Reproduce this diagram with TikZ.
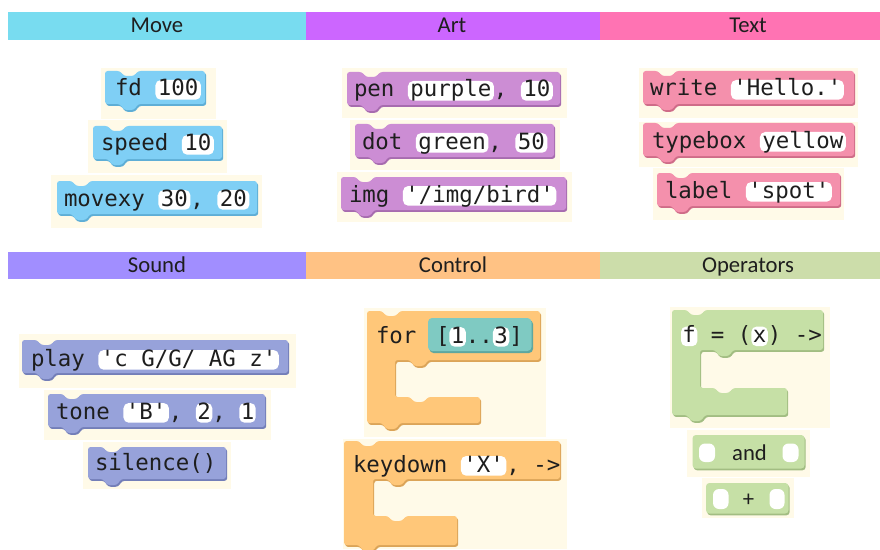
\documentclass[tikz,border=0pt]{standalone}
\usepackage{fontspec}
\setmainfont{Carlito}
\setmonofont{DejaVu Sans Mono}
\definecolor{ink}{HTML}{1E1E1E}
\definecolor{cream}{HTML}{FFFAE8}
\definecolor{hMove}{HTML}{78DCF0}
\definecolor{hArt}{HTML}{CC66FF}
\definecolor{hText}{HTML}{FF73B3}
\definecolor{hSound}{HTML}{A18EFF}
\definecolor{hCtrl}{HTML}{FFC284}
\definecolor{hOp}{HTML}{CCDDAA}
\definecolor{cMove}{HTML}{7FCFF5}
\definecolor{cMoveD}{HTML}{5EAED6}
\definecolor{cArt}{HTML}{CC8DD4}
\definecolor{cArtD}{HTML}{A76BAF}
\definecolor{cText}{HTML}{F490AC}
\definecolor{cTextD}{HTML}{CF6C88}
\definecolor{cSound}{HTML}{97A2DA}
\definecolor{cSoundD}{HTML}{737EB8}
\definecolor{cCtrl}{HTML}{FFC779}
\definecolor{cCtrlD}{HTML}{DBA458}
\definecolor{cOp}{HTML}{C6E0A6}
\definecolor{cOpD}{HTML}{A2BD82}
\definecolor{cTeal}{HTML}{7FCAC2}
\definecolor{cTealD}{HTML}{5EA79F}
\newcommand\mf{\ttfamily\fontsize{16.8pt}{20pt}\selectfont}
\newcommand\hf{\fontsize{17pt}{20pt}\selectfont}
\newcommand\msp{\hbox{\ }}
% statement block: colour, L, T, R, B
\newcommand\BlkS[5]{%
 \fill[fill=#1D,rounded corners=2pt,shift={(1.2,1.8)}] (#2,#3) -- ({#2+15},#3) -- ({#2+19},{#3+5}) -- ({#2+29},{#3+5}) -- ({#2+33},#3) -- (#4,#3) -- (#4,#5) -- ({#2+33},#5) -- ({#2+29},{#5+6}) -- ({#2+19},{#5+6}) -- ({#2+15},#5) -- (#2,#5) -- cycle;
 \fill[fill=#1,rounded corners=2pt] (#2,#3) -- ({#2+15},#3) -- ({#2+19},{#3+5}) -- ({#2+29},{#3+5}) -- ({#2+33},#3) -- (#4,#3) -- (#4,#5) -- ({#2+33},#5) -- ({#2+29},{#5+6}) -- ({#2+19},{#5+6}) -- ({#2+15},#5) -- (#2,#5) -- cycle;}
% C block: colour, L, T, R, A, IL, G, BR, B
\newcommand\BlkC[9]{%
 \fill[fill=#1D,rounded corners=2pt,shift={(1.2,1.8)}] (#2,#3) -- ({#2+15},#3) -- ({#2+19},{#3+5}) -- ({#2+29},{#3+5}) -- ({#2+33},#3) -- (#4,#3) -- (#4,#5) -- ({#6+33},#5) -- ({#6+29},{#5+6}) -- ({#6+19},{#5+6}) -- ({#6+15},#5) -- (#6,#5) -- (#6,#7) -- ({#6+15},#7) -- ({#6+19},{#7+5}) -- ({#6+29},{#7+5}) -- ({#6+33},#7) -- (#8,#7) -- (#8,#9) -- ({#2+33},#9) -- ({#2+29},{#9+6}) -- ({#2+19},{#9+6}) -- ({#2+15},#9) -- (#2,#9) -- cycle;
 \fill[fill=#1,rounded corners=2pt] (#2,#3) -- ({#2+15},#3) -- ({#2+19},{#3+5}) -- ({#2+29},{#3+5}) -- ({#2+33},#3) -- (#4,#3) -- (#4,#5) -- ({#6+33},#5) -- ({#6+29},{#5+6}) -- ({#6+19},{#5+6}) -- ({#6+15},#5) -- (#6,#5) -- (#6,#7) -- ({#6+15},#7) -- ({#6+19},{#7+5}) -- ({#6+29},{#7+5}) -- ({#6+33},#7) -- (#8,#7) -- (#8,#9) -- ({#2+33},#9) -- ({#2+29},{#9+6}) -- ({#2+19},{#9+6}) -- ({#2+15},#9) -- (#2,#9) -- cycle;}
% reporter block: colour, L, T, R, B
\newcommand\BlkR[5]{%
 \fill[fill=#1D,rounded corners=2.5pt,shift={(1.2,1.8)}] (#2,#3) rectangle (#4,#5);
 \fill[fill=#1,rounded corners=2.5pt] (#2,#3) rectangle (#4,#5);}
\tikzset{
 kw/.style={anchor=base west, inner sep=0pt, outer sep=0pt, font=\mf, text=ink},
 pl/.style={anchor=base west, fill=white, rounded corners=4pt, inner xsep=1.9pt, inner ysep=0pt, text height=12pt, text depth=2.8pt, outer sep=0pt, font=\mf, text=ink},
 pls/.style={pl, inner xsep=1.1pt},
 hdr/.style={anchor=base, font=\hf, text=ink, inner sep=0pt},
 hole/.style={fill=white, rounded corners=4.5pt},
}
\begin{document}
\begin{tikzpicture}[x=0.75pt,y=-0.75pt]
\useasboundingbox (0,0) rectangle (880,549);
\fill[white] (0,0) rectangle (880,549);
% header bars
\fill[hMove] (8,12) rectangle (306,40);
\fill[hArt] (306,12) rectangle (600,40);
\fill[hText] (600,12) rectangle (880,40);
\fill[hSound] (8,252) rectangle (306,279);
\fill[hCtrl] (306,252) rectangle (600,279);
\fill[hOp] (600,252) rectangle (880,279);
\node[hdr] (hmove) at (157,32.5) {Move};
\node[hdr] (hart) at (452,32.5) {Art};
\node[hdr] (htext) at (748,32.5) {Text};
\node[hdr] (hsound) at (157,272) {Sound};
\node[hdr] (hctrl) at (453,272) {Control};
\node[hdr] (hop) at (748,272) {Operators};
% cream backgrounds
\fill[cream] (101,68) rectangle (216,119);
\fill[cream] (88,120) rectangle (227,173);
\fill[cream] (51,175) rectangle (262,228);
\fill[cream] (342,68) rectangle (567,118);
\fill[cream] (350,120) rectangle (560,170);
\fill[cream] (337,172) rectangle (572,222);
\fill[cream] (639,68) rectangle (858,118);
\fill[cream] (639,122) rectangle (858,167);
\fill[cream] (653,168) rectangle (844,220);
\fill[cream] (19,334) rectangle (296,388);
\fill[cream] (44,390) rectangle (271,440);
\fill[cream] (83,442) rectangle (231,489);
\fill[cream] (364,308) rectangle (546,437);
\fill[cream] (343,439) rectangle (567,549);
\fill[cream] (670,307) rectangle (830,428);
\fill[cream] (687,430) rectangle (810,477);
\fill[cream] (702,478) rectangle (794,518);
% Move
\BlkS{cMove}{105}{71}{205}{104}
\node[kw] (m1a) at (115,96) {fd\msp};
\node[pl] (m1b) at (m1a.base east) {100};
\BlkS{cMove}{93}{126}{222}{159}
\node[kw] (m2a) at (101,151) {speed\msp};
\node[pl] (m2b) at (m2a.base east) {10};
\BlkS{cMove}{57}{181}{257}{214}
\node[kw] (m3a) at (64,206) {movexy\msp};
\node[pl] (m3b) at (m3a.base east) {30};
\node[kw] (m3c) at (m3b.base east) {,\msp};
\node[pl] (m3d) at (m3c.base east) {20};
% Art
\BlkS{cArt}{347}{72}{560}{105}
\node[kw] (a1a) at (354,97) {pen\msp};
\node[pl] (a1b) at (a1a.base east) {purple};
\node[kw] (a1c) at (a1b.base east) {,\msp};
\node[pl] (a1d) at (a1c.base east) {10};
\BlkS{cArt}{355}{124}{554}{157}
\node[kw] (a2a) at (362,149) {dot\msp};
\node[pl] (a2b) at (a2a.base east) {green};
\node[kw] (a2c) at (a2b.base east) {,\msp};
\node[pl] (a2d) at (a2c.base east) {50};
\BlkS{cArt}{341}{177}{566}{210}
\node[kw] (a3a) at (349,202) {img\msp};
\node[pl] (a3b) at (a3a.base east) {'/img/bird'};
% Text
\BlkS{cText}{643}{71}{854}{104}
\node[kw] (t1a) at (650,96) {write\msp};
\node[pl] (t1b) at (t1a.base east) {'Hello.'};
\BlkS{cText}{643}{123}{854}{156}
\node[kw] (t2a) at (652,148) {typebox\msp};
\node[pl] (t2b) at (t2a.base east) {yellow};
\BlkS{cText}{657}{173}{840}{206}
\node[kw] (t3a) at (665,198) {label\msp};
\node[pl] (t3b) at (t3a.base east) {'spot'};
% Sound
\BlkS{cSound}{22}{340}{288}{373}
\node[kw] (s1a) at (31,366) {play\msp};
\node[pl] (s1b) at (s1a.base east) {'c G/G/ AG z'};
\BlkS{cSound}{48}{394}{265}{427}
\node[kw] (s2a) at (56,419) {tone\msp};
\node[pl] (s2b) at (s2a.base east) {'B'};
\node[kw] (s2c) at (s2b.base east) {,\msp};
\node[pls] (s2d) at (s2c.base east) {2};
\node[kw] (s2e) at (s2d.base east) {,\msp};
\node[pls] (s2f) at (s2e.base east) {1};
\BlkS{cSound}{88}{447}{226}{479}
\node[kw] (s3a) at (95,470) {silence()};
% Control
\BlkC{cCtrl}{367}{311}{540}{360}{395}{397}{480}{423}
\node[kw] (c1a) at (376,343) {for};
\fill[cTealD,rounded corners=3pt] (429.5,320) rectangle (533,353);
\fill[cTeal,rounded corners=3pt] (428,318) rectangle (531.5,351);
\node[kw] (c1b) at (436,343) {[};
\node[pls] (c1c) at (c1b.base east) {1};
\node[kw] (c1d) at (c1c.base east) {..};
\node[pls] (c1e) at (c1d.base east) {3};
\node[kw] (c1f) at (c1e.base east) {]};
\BlkC{cCtrl}{344}{441}{560}{479}{373}{516}{457}{545}
\node[kw] (c2a) at (353,472) {keydown\msp};
\node[pl] (c2b) at (c2a.base east) {'X'};
\node[kw] (c2c) at (c2b.base east) {,\msp->};
% Operators
\BlkC{cOp}{672}{310}{823}{350}{700}{388}{787}{415}
\node[pls] (o1a) at (681,342.5) {f};
\node[kw] (o1b) at (o1a.base east) {\msp=\msp(};
\node[pls] (o1c) at (o1b.base east) {x};
\node[kw] (o1d) at (o1c.base east) {)\msp->};
\BlkR{cOp}{692.5}{435}{804.5}{468.5}
\fill[hole] (699,443.5) rectangle (715,462);
\fill[hole] (782.5,443.5) rectangle (798.5,462);
\node[hdr] (o2) at (749.5,460) {and};
\BlkR{cOp}{706}{483}{788.5}{513.5}
\fill[hole] (713,489) rectangle (728.5,509);
\fill[hole] (769.5,489) rectangle (784.5,509);
\node[font=\hf, text=ink, inner sep=0pt] (o3) at (748.5,500) {+};
\end{tikzpicture}
\end{document}
